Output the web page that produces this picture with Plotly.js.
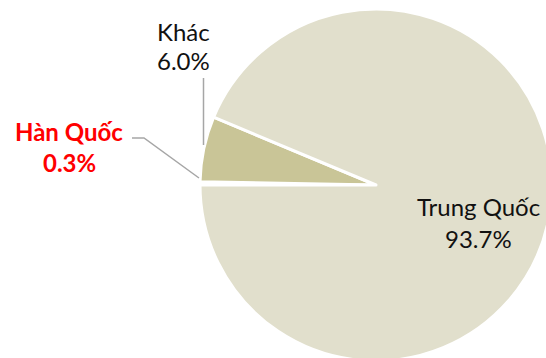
<!DOCTYPE html>
<html>
<head>
<meta charset="utf-8">
<script src="https://cdn.plot.ly/plotly-3.0.1.min.js"></script>
<style>
  html, body { margin: 0; padding: 0; width: 546px; height: 358px; overflow: hidden; background: #fff; }
  #chart { width: 560px; height: 372px; }
</style>
</head>
<body>
<div id="chart"></div>
<script>
// Import share by origin
const labels = ["Hàn Quốc", "Khác", "Trung Quốc"];
const values = [0.3, 6.0, 93.7];
const sliceColors = ["#ffffff", "#c9c597", "#e1dfcc"];
const labelColors = ["#ff0000", "#111111", "#111111"];
const labelBold = [true, false, false];

const W = 560, H = 372;
// pixel -> paper coordinates
const px = (x) => x / W;
const py = (y) => 1 - y / H;

// label anchor centres (pixels): name line, value line
const labelPos = [
  { x: 69, y1: 131, y2: 162 },
  { x: 183, y1: 31, y2: 61 },
  { x: 478, y1: 207, y2: 238 }
];

const fmt = (v) => v.toFixed(1) + "%";

const annotations = [];
labels.forEach((name, i) => {
  const p = labelPos[i];
  const font = { family: "Lato, 'Noto Sans', sans-serif", size: 24, color: labelColors[i] };
  const wrap = (t) => labelBold[i] ? "<b>" + t + "</b>" : t;
  annotations.push({ xref: "paper", yref: "paper", x: px(p.x), y: py(p.y1), text: wrap(name),
    showarrow: false, xanchor: "center", yanchor: "middle", font: font });
  annotations.push({ xref: "paper", yref: "paper", x: px(p.x), y: py(p.y2), text: wrap(fmt(values[i])),
    showarrow: false, xanchor: "center", yanchor: "middle", font: font });
});

// leader lines
const lineStyle = { color: "#a6a6a6", width: 1.5 };
const shapes = [
  { type: "path", xref: "paper", yref: "paper",
    path: `M ${px(132)} ${py(138)} L ${px(144)} ${py(138)} L ${px(199)} ${py(178)}`, line: lineStyle },
  { type: "line", xref: "paper", yref: "paper",
    x0: px(203.5), y0: py(78), x1: px(203.5), y1: py(145), line: lineStyle }
];

const trace = {
  type: "pie",
  labels: labels,
  values: values,
  sort: false,
  direction: "clockwise",
  rotation: -90,
  marker: { colors: sliceColors, line: { color: "#ffffff", width: 3 } },
  textinfo: "none",
  hoverinfo: "label+percent",
  showlegend: false,
  domain: { x: [px(200), px(552)], y: [py(361), py(9)] }
};

Plotly.newPlot("chart", [trace], {
  width: W, height: H,
  margin: { l: 0, r: 0, t: 0, b: 0 },
  paper_bgcolor: "#ffffff",
  showlegend: false,
  annotations: annotations,
  shapes: shapes
}, { displayModeBar: false, staticPlot: true });
</script>
</body>
</html>
